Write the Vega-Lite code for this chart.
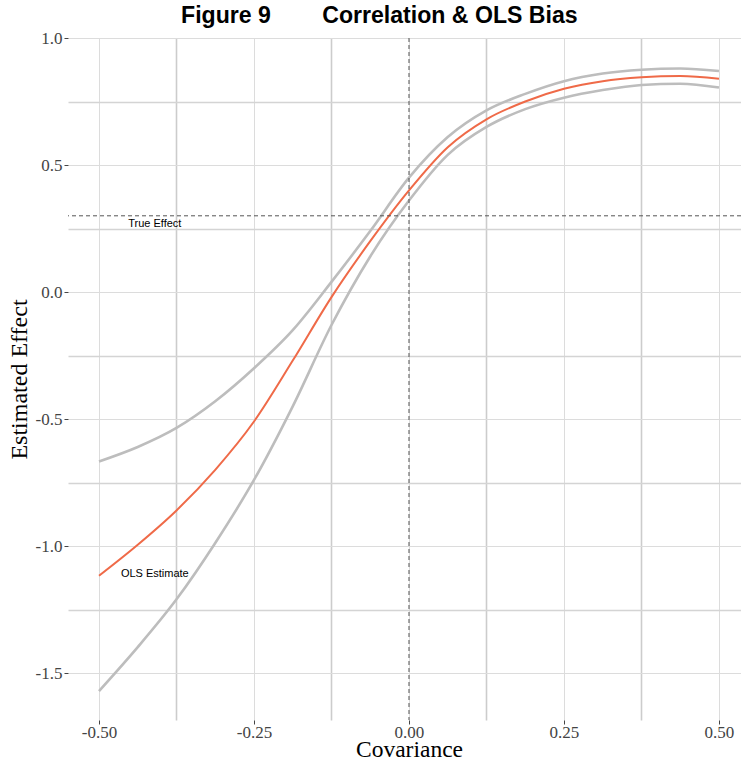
{
  "$schema": "https://vega.github.io/schema/vega-lite/v6.json",
  "width": 673,
  "height": 682,
  "autosize": {"type": "none"},
  "padding": {"left": 68, "top": 38, "right": 0, "bottom": 41},
  "background": "white",
  "config": {
    "view": {"stroke": null},
    "axis": {
      "domain": false,
      "labelFont": "Liberation Serif",
      "labelFontSize": 17,
      "labelColor": "#444444",
      "titleFont": "Liberation Serif",
      "titleFontSize": 24,
      "titleFontWeight": "normal",
      "titleColor": "black",
      "tickColor": "#444444",
      "tickSize": 4
    }
  },
  "title": {
    "text": "Figure 9\u00a0\u00a0\u00a0\u00a0\u00a0\u00a0\u00a0\u00a0Correlation & OLS Bias",
    "font": "Liberation Sans",
    "fontSize": 23.1,
    "fontWeight": "bold",
    "color": "black",
    "anchor": "start",
    "dx": 174,
    "offset": 1
  },
  "datasets": {
    "curves": [
      {"x": -0.5, "y": -1.571, "series": "lower"},
      {"x": -0.4375, "y": -1.398, "series": "lower"},
      {"x": -0.375, "y": -1.21, "series": "lower"},
      {"x": -0.3125, "y": -0.988, "series": "lower"},
      {"x": -0.25, "y": -0.74, "series": "lower"},
      {"x": -0.1875, "y": -0.45, "series": "lower"},
      {"x": -0.125, "y": -0.13, "series": "lower"},
      {"x": -0.0625, "y": 0.14, "series": "lower"},
      {"x": 0, "y": 0.36, "series": "lower"},
      {"x": 0.0625, "y": 0.54, "series": "lower"},
      {"x": 0.125, "y": 0.65, "series": "lower"},
      {"x": 0.1875, "y": 0.72, "series": "lower"},
      {"x": 0.25, "y": 0.765, "series": "lower"},
      {"x": 0.3125, "y": 0.795, "series": "lower"},
      {"x": 0.375, "y": 0.815, "series": "lower"},
      {"x": 0.4375, "y": 0.82, "series": "lower"},
      {"x": 0.5, "y": 0.805, "series": "lower"},
      {"x": -0.5, "y": -0.667, "series": "upper"},
      {"x": -0.4375, "y": -0.61, "series": "upper"},
      {"x": -0.375, "y": -0.535, "series": "upper"},
      {"x": -0.3125, "y": -0.43, "series": "upper"},
      {"x": -0.25, "y": -0.30, "series": "upper"},
      {"x": -0.1875, "y": -0.15, "series": "upper"},
      {"x": -0.125, "y": 0.04, "series": "upper"},
      {"x": -0.0625, "y": 0.24, "series": "upper"},
      {"x": 0, "y": 0.45, "series": "upper"},
      {"x": 0.0625, "y": 0.61, "series": "upper"},
      {"x": 0.125, "y": 0.715, "series": "upper"},
      {"x": 0.1875, "y": 0.78, "series": "upper"},
      {"x": 0.25, "y": 0.83, "series": "upper"},
      {"x": 0.3125, "y": 0.86, "series": "upper"},
      {"x": 0.375, "y": 0.875, "series": "upper"},
      {"x": 0.4375, "y": 0.88, "series": "upper"},
      {"x": 0.5, "y": 0.87, "series": "upper"},
      {"x": -0.5, "y": -1.117, "series": "estimate"},
      {"x": -0.4375, "y": -0.995, "series": "estimate"},
      {"x": -0.375, "y": -0.86, "series": "estimate"},
      {"x": -0.3125, "y": -0.70, "series": "estimate"},
      {"x": -0.25, "y": -0.51, "series": "estimate"},
      {"x": -0.1875, "y": -0.27, "series": "estimate"},
      {"x": -0.125, "y": -0.02, "series": "estimate"},
      {"x": -0.0625, "y": 0.20, "series": "estimate"},
      {"x": 0, "y": 0.40, "series": "estimate"},
      {"x": 0.0625, "y": 0.57, "series": "estimate"},
      {"x": 0.125, "y": 0.68, "series": "estimate"},
      {"x": 0.1875, "y": 0.75, "series": "estimate"},
      {"x": 0.25, "y": 0.80, "series": "estimate"},
      {"x": 0.3125, "y": 0.83, "series": "estimate"},
      {"x": 0.375, "y": 0.845, "series": "estimate"},
      {"x": 0.4375, "y": 0.85, "series": "estimate"},
      {"x": 0.5, "y": 0.84, "series": "estimate"}
    ],
    "labels": [
      {"x": -0.41, "y": 0.268, "label": "True Effect"},
      {"x": -0.41, "y": -1.109, "label": "OLS Estimate"}
    ],
    "refs": [
      {"true_effect": 0.3, "zero_cov": 0}
    ]
  },
  "encoding": {
    "x": {
      "type": "quantitative",
      "scale": {"domain": [-0.55, 0.5355], "nice": false, "zero": false},
      "axis": {
        "title": "Covariance",
        "values": [-0.5, -0.375, -0.25, -0.125, 0, 0.125, 0.25, 0.375, 0.5],
        "labelExpr": "datum.value == -0.5 ? '-0.50' : datum.value == -0.25 ? '-0.25' : datum.value == 0 ? '0.00' : datum.value == 0.25 ? '0.25' : datum.value == 0.5 ? '0.50' : ''",
        "labelPadding": 0,
        "titleBaseline": "alphabetic",
        "titleY": 36.5,
        "titleX": 341,
        "titleFontSize": 23.5,
        "gridColor": {"condition": {"test": "abs(datum.value*4 - round(datum.value*4)) < 0.001", "value": "#dcdcdc"}, "value": "#cccccc"},
        "gridWidth": {"condition": {"test": "abs(datum.value*4 - round(datum.value*4)) < 0.001", "value": 1}, "value": 1.6},
        "tickOpacity": {"condition": {"test": "abs(datum.value*4 - round(datum.value*4)) < 0.001", "value": 1}, "value": 0}
      }
    },
    "y": {
      "type": "quantitative",
      "scale": {"domain": [-1.685, 1.0], "nice": false, "zero": false},
      "axis": {
        "title": "Estimated Effect",
        "values": [-1.5, -1.25, -1, -0.75, -0.5, -0.25, 0, 0.25, 0.5, 0.75, 1],
        "labelExpr": "datum.value == -1.5 ? '-1.5' : datum.value == -1 ? '-1.0' : datum.value == -0.5 ? '-0.5' : datum.value == 0 ? '0.0' : datum.value == 0.5 ? '0.5' : datum.value == 1 ? '1.0' : ''",
        "labelPadding": 2,
        "titlePadding": 4,
        "gridColor": {"condition": {"test": "abs(datum.value*2 - round(datum.value*2)) < 0.001", "value": "#dcdcdc"}, "value": "#d4d4d4"},
        "gridWidth": {"condition": {"test": "abs(datum.value*2 - round(datum.value*2)) < 0.001", "value": 1}, "value": 1.3},
        "tickOpacity": {"condition": {"test": "abs(datum.value*2 - round(datum.value*2)) < 0.001", "value": 1}, "value": 0}
      }
    }
  },
  "layer": [
    {
      "data": {"name": "curves"},
      "transform": [{"filter": "datum.series != 'estimate'"}],
      "mark": {"type": "line", "color": "#bdbdbd", "strokeWidth": 2.6, "interpolate": "monotone"},
      "encoding": {
        "x": {"field": "x", "type": "quantitative"},
        "y": {"field": "y", "type": "quantitative"},
        "detail": {"field": "series"}
      }
    },
    {
      "data": {"name": "curves"},
      "transform": [{"filter": "datum.series == 'estimate'"}],
      "mark": {"type": "line", "color": "#ef6a48", "strokeWidth": 2, "interpolate": "monotone"},
      "encoding": {
        "x": {"field": "x", "type": "quantitative"},
        "y": {"field": "y", "type": "quantitative"}
      }
    },
    {
      "data": {"name": "refs"},
      "mark": {"type": "rule", "color": "#555555", "strokeWidth": 1, "strokeDash": [4, 3]},
      "encoding": {"y": {"field": "true_effect", "type": "quantitative"}}
    },
    {
      "data": {"name": "refs"},
      "mark": {"type": "rule", "color": "#555555", "strokeWidth": 1, "strokeDash": [4, 3]},
      "encoding": {"x": {"field": "zero_cov", "type": "quantitative"}}
    },
    {
      "data": {"name": "labels"},
      "mark": {"type": "text", "font": "Liberation Sans", "fontSize": 11, "color": "black", "align": "center", "baseline": "middle"},
      "encoding": {
        "x": {"field": "x", "type": "quantitative"},
        "y": {"field": "y", "type": "quantitative"},
        "text": {"field": "label"}
      }
    }
  ]
}
